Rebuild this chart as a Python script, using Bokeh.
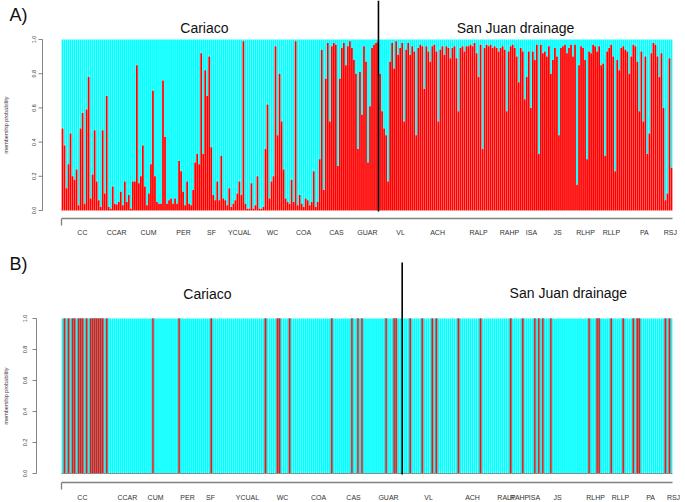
import math
from bokeh.plotting import figure
from bokeh.models import Range1d
from bokeh.layouts import column
from bokeh.embed import file_html
from bokeh.resources import INLINE
from bokeh.core.properties import value

# ---------------- data ----------------
pops = ["CC", "CCAR", "CUM", "PER", "SF", "YCUAL", "WC", "COA", "CAS", "GUAR",
        "VL", "ACH", "RALP", "RAHP", "ISA", "JS", "RLHP", "RLLP", "PA", "RSJ"]

# label centres, in individual-index units
label_pos_A = [10.4, 27.4, 43.3, 60.7, 74.6, 88.6, 105.0, 120.4, 136.8, 152.2,
               168.7, 187.1, 207.5, 222.9, 233.8, 246.8, 260.7, 273.6, 290.0, 302.9]
label_pos_B = [10.4, 32.8, 46.8, 62.7, 74.1, 92.5, 110.0, 127.9, 145.3, 162.7,
               182.6, 204.5, 221.4, 227.9, 235.3, 246.8, 265.7, 278.1, 293.1, 304.5]

# boundary Cariaco | San Juan drainage (individual index)
split_A = 157.7
split_B = 169.5

y_ticks = [0.0, 0.2, 0.4, 0.6, 0.8, 1.0]
y_tick_labels = ["0.0", "0.2", "0.4", "0.6", "0.8", "1.0"]

# panel A: membership probability of the red cluster, per individual
q_A_part1 = [0.48, 0.38, 0.13, 0.27, 0.45, 0.20, 0.18, 0.24, 0.03, 0.48,
             0.57, 0.04, 0.59, 0.78, 0.07, 0.21, 0.47, 0.17, 0.06, 0.02,
             0.47, 0.10, 0.67, 0.02, 0.01, 0.14, 0.04, 0.035, 0.05, 0.11,
             0.03, 0.17, 0.05, 0.09, 0.01, 0.17, 0.17, 0.85, 0.16, 0.20,
             0.38, 0.14, 0.03, 0.10, 0.27, 0.70, 0.20, 0.05, 0.04, 0.04,
             0.76, 0.43, 0.04, 0.06, 0.07, 0.04, 0.07, 0.04, 0.29, 0.23,
             0.11, 0.03, 0.17, 0.04, 0.03, 0.12, 0.28, 0.33, 0.27, 0.92,
             0.33, 0.82, 0.67, 0.90, 0.37, 0.09, 0.06, 0.17, 0.06, 0.32,
             0.07, 0.06, 0.03, 0.13, 0.02, 0.04, 0.06, 0.10, 0.17, 0.09,
             0.99, 0.04, 0.01, 0.01, 0.16, 0.01, 0.03, 0.20, 0.01, 0.01]
q_A_part2 = [0.02, 0.36, 0.62, 0.07, 0.17, 0.20, 0.96, 0.44, 0.80, 0.52,
             0.24, 0.07, 0.05, 0.04, 0.18, 0.05, 0.99, 0.03, 0.09, 0.04,
             0.02, 0.07, 0.06, 0.03, 0.05, 0.23, 0.02, 0.05, 0.30, 0.94,
             0.12, 0.77, 0.98, 0.52, 0.96, 0.98, 0.97, 0.26, 0.77, 0.95,
             0.98, 0.85, 0.96, 0.99, 0.95, 0.88, 0.80, 0.36, 0.81, 0.56,
             0.96, 0.87, 0.28, 0.61, 0.95, 0.97, 0.98, 0.99, 0.80, 0.58,
             0.48, 0.44, 0.17, 0.87, 0.98, 0.83, 0.99, 0.91, 0.95, 0.98,
             0.52, 0.94, 0.98, 0.91, 0.96, 0.93, 0.44, 0.95, 0.97, 0.96,
             0.71, 0.96, 0.93, 0.87, 0.96, 0.97, 0.93, 0.52, 0.94, 0.96,
             0.91, 0.96, 0.95, 0.89, 0.95, 0.96, 0.89, 0.58, 0.95, 0.96,
             0.93, 0.96, 0.96]
q_A_part3 = [0.97, 0.96, 0.98, 0.92, 0.78, 0.97, 0.36, 0.95, 0.97, 0.96,
             0.97, 0.95, 0.96, 0.95, 0.93, 0.95, 0.96, 0.94, 0.58, 0.93,
             0.96, 0.97, 0.95, 0.90, 0.75, 0.95, 0.93, 0.65, 0.78, 0.93,
             0.60, 0.93, 0.88, 0.97, 0.33, 0.97, 0.92, 0.93, 0.90, 0.96,
             0.80, 0.88, 0.95, 0.90, 0.44, 0.95, 0.96, 0.97, 0.92, 0.95,
             0.97, 0.90, 0.97, 0.15, 0.85, 0.96, 0.95, 0.88, 0.30, 0.93,
             0.92, 0.97, 0.96, 0.93, 0.96, 0.85, 0.86, 0.32, 0.93, 0.95,
             0.97, 0.90, 0.23, 0.88, 0.82, 0.95, 0.96, 0.94, 0.93, 0.80,
             0.90, 0.97, 0.96, 0.87, 0.58, 0.93, 0.52, 0.90, 0.33, 0.45,
             0.92, 0.98, 0.97, 0.90, 0.78, 0.92, 0.60, 0.06, 0.10, 0.89,
             0.25]

# panel B: membership probability of the red cluster, per individual
q_B = [0, 1, 0, 1, 0, 1, 1, 0, 1, 1, 1, 0, 1, 0, 1, 1, 1, 1, 1, 1,
       1, 0, 1, 0, 0, 0, 0, 0, 0, 0, 0, 0, 0, 0, 0, 0, 0, 0, 0, 0,
       0, 0, 0, 0, 0, 1, 0, 0, 0, 0, 0, 0, 0, 0, 0, 0, 0, 0, 1, 0,
       0, 0, 0, 0, 0, 0, 0, 0, 0, 0, 0, 0, 0, 0, 1, 0, 0, 0, 0, 0,
       0, 0, 0, 0, 0, 0, 0, 0, 0, 0, 0, 0, 0, 0, 0, 0, 0, 0, 0, 0,
       0, 1, 0, 0, 0, 0, 0, 1, 1, 0, 0, 0, 0, 1, 0, 0, 0, 0, 0, 0,
       0, 0, 0, 0, 0, 0, 0, 0, 0, 0, 0, 0, 0, 0, 1, 0, 0, 0, 0, 0,
       0, 0, 0, 0, 1, 0, 0, 1, 0, 1, 0, 0, 0, 0, 0, 0, 0, 0, 0, 0,
       0, 1, 0, 0, 0, 1, 1, 0, 0, 0, 0, 0, 0, 1, 0, 0, 0, 0, 0, 1,
       0, 0, 0, 0, 1, 0, 1, 0, 0, 0, 0, 0, 0, 0, 0, 0, 0, 1, 0, 0,
       0, 0, 0, 0, 0, 0, 0, 0, 1, 0, 0, 0, 0, 0, 0, 0, 0, 0, 0, 0,
       0, 0, 0, 1, 0, 0, 0, 0, 0, 1, 0, 0, 0, 0, 0, 1, 0, 1, 0, 1,
       0, 0, 0, 1, 0, 0, 0, 0, 0, 0, 0, 0, 0, 0, 0, 0, 0, 0, 0, 0,
       0, 0, 1, 0, 0, 0, 1, 1, 0, 0, 0, 0, 0, 1, 0, 0, 0, 0, 0, 1,
       0, 0, 0, 0, 1, 0, 1, 1, 0, 0, 0, 0, 0, 0, 0, 0, 0, 0, 0, 0,
       1, 0, 1, 0]

q_A = q_A_part1 + q_A_part2 + q_A_part3

RED = "#FF0000"
CYAN = "#00FFFF"
FONT = "Liberation Sans"
W = 685
PPU = 611.0 / 304.0          # pixels per individual; first bar starts at page x = 61
X0 = -61.0 / PPU
X1 = (W - 61.0) / PPU


def px(x_page):
    """page x (pixels) -> individual-index units"""
    return (x_page - 61.0) / PPU


def make_panel(q, label_pos, split, height, top_page, y1_page, y0_page, tag,
               axis_x, label_x, line_top_page, br_page, lab_page, title_x, title_pages,
               tag_page, red_edge=None):
    u = float(y0_page - y1_page)              # pixels per probability unit

    def py(y_page):
        return (y0_page - y_page) / u

    p = figure(width=W, height=height, output_backend="svg", toolbar_location=None,
               x_axis_type=None, y_axis_type=None,
               x_range=Range1d(X0, X1),
               y_range=Range1d(py(top_page + height), py(top_page)),
               min_border=0, background_fill_color="white", border_fill_color="white")
    p.outline_line_color = None
    p.grid.visible = False

    xs = [i + 0.5 for i in range(len(q))]
    p.vbar(x=xs, width=0.88, bottom=q, top=1, fill_color=CYAN, line_color=None)
    if red_edge is None:
        p.vbar(x=xs, width=0.88, bottom=0, top=q, fill_color=RED, line_color=None)
    else:
        p.vbar(x=xs, width=0.8, bottom=0, top=q, fill_color=RED, line_color=red_edge,
               line_width=0.7)

    # y axis (probability)
    p.segment(x0=[px(axis_x)], y0=[0], x1=[px(axis_x)], y1=[1],
              line_color="#666666", line_width=0.8)
    p.segment(x0=[px(axis_x)] * len(y_ticks), y0=y_ticks,
              x1=[px(axis_x - 4)] * len(y_ticks), y1=y_ticks,
              line_color="#666666", line_width=0.8)
    p.text(x=[px(label_x)] * len(y_ticks), y=y_ticks, text=y_tick_labels,
           angle=math.pi / 2, text_font=value(FONT), text_font_size="5.5px",
           text_align="center", text_baseline="middle", text_color="#333333")
    p.text(x=[px(5)], y=[0.5], text=["membership probability"], angle=math.pi / 2,
           text_font=value(FONT), text_font_size="5.5px", text_align="center",
           text_baseline="middle", text_color="#333333")

    n = len(q)
    # population axis (bracket) and labels
    br = py(br_page)
    p.line(x=[0, n], y=[br, br], line_color="#808080", line_width=1.3)
    p.segment(x0=[0], y0=[br], x1=[0], y1=[py(br_page + 7)], line_color="#808080",
              line_width=1.3)
    p.text(x=label_pos, y=[py(lab_page)] * len(pops), text=pops, text_font=value(FONT),
           text_font_size="7px", text_align="center", text_baseline="middle",
           text_color="#333333")

    # region titles
    p.text(x=title_x, y=[py(t) for t in title_pages], text=["Cariaco", "San Juan drainage"],
           text_font=value(FONT), text_font_size="14px", text_align="center",
           text_baseline="middle", text_color="#111111")

    # drainage separator
    p.segment(x0=[split], y0=[py(line_top_page)], x1=[split], y1=[py(y0_page + 1)],
              line_color="black", line_width=1.6)

    # panel tag
    p.text(x=[px(9)], y=[py(tag_page)], text=[tag], text_font=value(FONT),
           text_font_size="18px", text_align="left", text_baseline="middle",
           text_color="#111111")
    return p


# Panel A: page y 0..247, 1.0 at y=39, 0.0 at y=210
pA = make_panel(q_A, label_pos_A, split_A, 247, 0, 39, 210, "A)",
                axis_x=42, label_x=33, line_top_page=0, br_page=218, lab_page=232,
                title_x=[71.1, 225.9], title_pages=[27, 27], tag_page=14)

# Panel B: page y 247..501, 1.0 at y=318, 0.0 at y=473
pB = make_panel(q_B, label_pos_B, split_B, 254, 247, 318, 473, "B)",
                axis_x=36, label_x=24, line_top_page=262, br_page=482, lab_page=497,
                title_x=[72.6, 252.2], title_pages=[293, 292], tag_page=263,
                red_edge="#8a7070")

layout = column(pA, pB, spacing=0)
open("out.html", "w").write(file_html(layout, INLINE))
